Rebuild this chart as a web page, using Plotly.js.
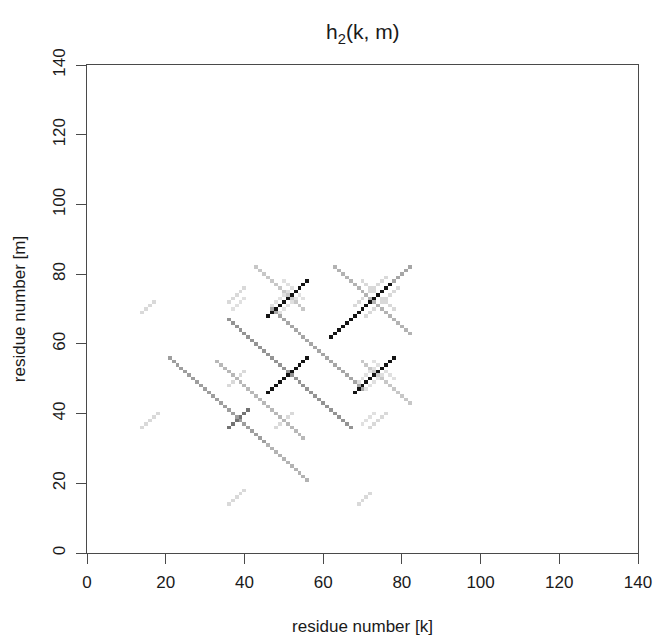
<!DOCTYPE html>
<html><head><meta charset="utf-8">
<script src="https://cdn.plot.ly/plotly-3.0.1.min.js"></script>
<style>html,body{margin:0;padding:0;background:#fff}</style>
</head><body>
<div id="chart" style="width:655px;height:636px"></div>
<script>
// grid size (residues 1..140)
const nResidues = 140;
const xTickVals = [0, 20, 40, 60, 80, 100, 120, 140];
const yTickVals = [0, 20, 40, 60, 80, 100, 120, 140];

// Diagonal / anti-diagonal runs of non-zero h2(k,m):
// start (k0,m0), end (k1,m1), intensity (0 = white, 1 = black)
const segK0 =    [46, 68, 46, 62, 78, 21, 46, 33, 36, 47, 63, 43, 70, 36, 14, 36, 14, 69, 36, 48, 36, 72, 37, 70, 49, 69, 47, 71, 50, 73, 68, 71, 70];
const segM0 =    [68, 46, 46, 62, 78, 56, 31, 55, 67, 70, 82, 82, 55, 36, 36, 14, 69, 14, 48, 36, 72, 36, 70, 37, 69, 49, 71, 47, 78, 55, 71, 68, 78];
const segK1 =    [56, 78, 56, 77, 82, 45, 56, 55, 67, 70, 82, 55, 82, 41, 18, 40, 17, 72, 40, 52, 40, 76, 40, 73, 54, 74, 52, 76, 55, 78, 76, 79, 78];
const segM1 =    [78, 56, 56, 77, 82, 32, 21, 33, 36, 47, 63, 70, 43, 41, 40, 18, 72, 17, 52, 40, 76, 40, 73, 40, 74, 54, 76, 52, 73, 50, 79, 76, 70];
const segLevel = [0.92, 0.92, 0.92, 0.92, 0.35, 0.38, 0.3, 0.28, 0.42, 0.35, 0.3, 0.22, 0.22, 0.55,
                  0.15, 0.15, 0.15, 0.15, 0.15, 0.15, 0.15, 0.15, 0.12, 0.12,
                  0.12, 0.12, 0.12, 0.12, 0.12, 0.12, 0.15, 0.15, 0.15];

const residues = [];
for (let i = 1; i <= nResidues; i++) residues.push(i);
const z = residues.map(() => residues.map(() => 0));
for (let s = 0; s < segK0.length; s++) {
  const dk = Math.sign(segK1[s] - segK0[s]);
  const dm = Math.sign(segM1[s] - segM0[s]);
  const n = Math.max(Math.abs(segK1[s] - segK0[s]), Math.abs(segM1[s] - segM0[s]));
  for (let t = 0; t <= n; t++) {
    const k = segK0[s] + dk * t, m = segM0[s] + dm * t;
    z[m - 1][k - 1] = Math.max(z[m - 1][k - 1], segLevel[s]);
  }
}

const fam = 'Liberation Sans, Arial, sans-serif';
const font = {family: fam, size: 17, color: '#1a1a1a'};
const trace = {
  type: 'heatmap', x: residues, y: residues, z: z,
  zmin: 0, zmax: 1, showscale: false, hoverinfo: 'skip',
  colorscale: [[0, '#ffffff'], [1, '#000000']]
};
const axisBase = {
  showgrid: false, zeroline: false, showline: true, mirror: true,
  linecolor: '#4a4a4a', linewidth: 1, ticks: 'outside', ticklen: 10,
  tickcolor: '#4a4a4a', tickwidth: 1, tickfont: font, ticklabelstandoff: 4
};
const layout = {
  width: 655, height: 636,
  margin: {l: 87, r: 17, t: 65, b: 83},
  paper_bgcolor: '#ffffff', plot_bgcolor: '#ffffff',
  font: font,
  title: {text: 'h<sub>2</sub>(k, m)', x: 0.554, xanchor: 'center', y: 0.95, yanchor: 'middle',
    font: {family: fam, size: 21, color: '#1a1a1a'}},
  xaxis: Object.assign({}, axisBase, {range: [0, 140], tickvals: xTickVals, ticktext: xTickVals.map(String),
    title: {text: 'residue number [k]', font: font, standoff: 32}}),
  yaxis: Object.assign({}, axisBase, {range: [0, 140], tickvals: yTickVals, ticktext: yTickVals.map(String), tickangle: -90,
    title: {text: 'residue number [m]', font: font, standoff: 20}})
};
Plotly.newPlot('chart', [trace], layout, {displayModeBar: false, staticPlot: true});
</script>
</body></html>
